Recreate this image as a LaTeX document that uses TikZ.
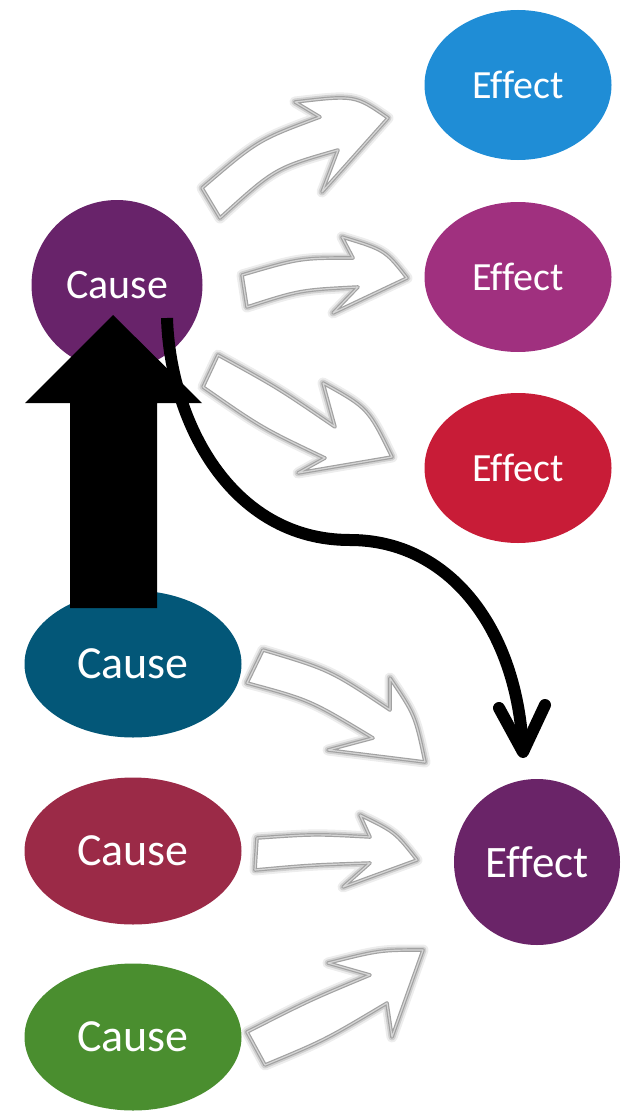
\documentclass[tikz,border=0pt]{standalone}
\usepackage{fontspec}
\setmainfont{Carlito}[Ligatures=NoCommon]
\usetikzlibrary{shapes.geometric}
\definecolor{causeA}{HTML}{68236A}
\definecolor{effA}{HTML}{1F8DD6}
\definecolor{effB}{HTML}{A0307F}
\definecolor{effC}{HTML}{C81C37}
\definecolor{causeB}{HTML}{035778}
\definecolor{causeC}{HTML}{9B2A47}
\definecolor{causeD}{HTML}{4A8E2F}
\definecolor{effD}{HTML}{6A2468}
\definecolor{agray}{HTML}{A2A2A2}
\begin{document}
\begin{tikzpicture}[x=1pt,y=-1pt,
  blob/.style={ellipse, inner sep=0pt, text=white, draw=none},
  effsmall/.style={blob, minimum width=187pt, minimum height=150pt, font=\fontsize{40}{48}\selectfont},
  causebig/.style={blob, minimum width=217pt, minimum height=147pt, font=\fontsize{46}{54}\selectfont},
  garrow/.style={draw=agray, line width=3.6pt, fill=white, line join=round,
    preaction={draw=black, opacity=0.07, line width=11pt, line join=round},
    preaction={draw=black, opacity=0.12, line width=7pt, line join=round},
    postaction={draw=agray!45, line width=1.2pt, line join=round}},
  bigarrow/.style={fill=black, draw=none},
  curvearrow/.style={draw=black, line width=12pt}
  ]
\useasboundingbox (0,0) rectangle (625,1113);

% nodes
\node[blob, minimum width=171pt, minimum height=170pt, fill=causeA, font=\fontsize{42}{50}\selectfont] (c1) at (117,285) {Cause};
\node[effsmall, fill=effA] (e1) at (518,85) {Effect};
\node[effsmall, fill=effB] (e2) at (518,277) {Effect};
\node[effsmall, fill=effC] (e3) at (518,468) {Effect};
\node[causebig, fill=causeB] (c2) at (133,664) {Cause};
\node[causebig, fill=causeC] (c3) at (133,851) {Cause};
\node[causebig, fill=causeD] (c4) at (133,1037) {Cause};
\node[blob, minimum width=166pt, minimum height=166pt, fill=effD, font=\fontsize{45}{54}\selectfont] (e4) at (537,862) {Effect};

% gray hollow arrows (top group)
\draw[garrow] (202,188) .. controls (258,140) .. (320,117) -- (295,102)
  .. controls (355,95) .. (388,118) -- (322,192) -- (338,150)
  .. controls (275,168) .. (220,218) -- cycle;
\draw[garrow] (242,275) .. controls (300,258) .. (353,258) -- (342,237)
  .. controls (385,250) .. (407,278) -- (333,313) -- (358,287)
  .. controls (300,290) .. (247,307) -- cycle;
\draw[garrow] (218,355) .. controls (278,388) .. (335,427) -- (323,383)
  .. controls (368,408) .. (392,457) -- (298,473) -- (325,458)
  .. controls (262,428) .. (203,387) -- cycle;

% gray hollow arrows (bottom group)
\draw[garrow] (263,650) .. controls (330,670) .. (390,710) -- (390,678)
  .. controls (415,715) .. (425,762) -- (328,750) -- (373,738)
  .. controls (310,700) .. (247,683) -- cycle;
\draw[garrow] (257,838) .. controls (315,834) .. (370,837) -- (360,815)
  .. controls (395,832) .. (417,860) -- (343,887) -- (370,863)
  .. controls (310,865) .. (255,870) -- cycle;
\draw[garrow] (247,1032) .. controls (310,1000) .. (370,975) -- (328,963)
  .. controls (380,950) .. (423,950) -- (392,1037) -- (387,1003)
  .. controls (325,1040) .. (265,1065) -- cycle;

% big black arrow
\coordinate (btip) at (113,315);
\fill[bigarrow] (70,608) -- (70,403) -- (25,403) -- (btip) -- (202,403) -- (157,403) -- (157,608) -- cycle;

% curved black arrow
\coordinate (cstart) at (167,318);
\coordinate (cmid) at (350,540);
\coordinate (ctip) at (523,752);
\coordinate (armL) at (499,708);
\coordinate (armR) at (545,705);
\draw[curvearrow] (cstart) .. controls (170,420) and (230,540) .. (cmid)
  .. controls (450,540) and (518,630) .. (ctip);
\draw[curvearrow, line cap=round, line join=round] (armL) -- (ctip) -- (armR);
\end{tikzpicture}
\end{document}
